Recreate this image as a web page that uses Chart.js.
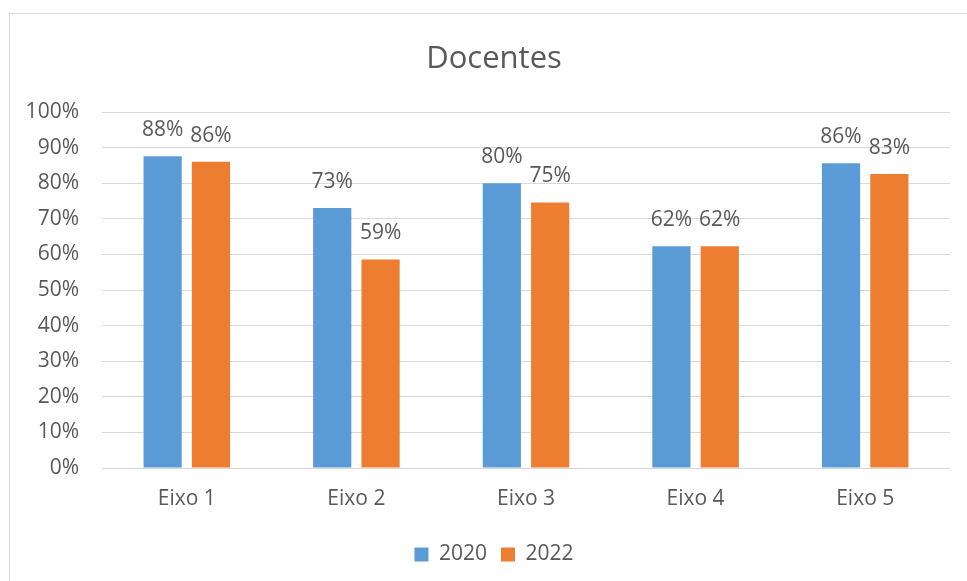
<!DOCTYPE html>
<html>
<head>
<meta charset="utf-8">
<script src="https://cdn.jsdelivr.net/npm/chart.js@4/dist/chart.umd.min.js"></script>
<style>
  html, body { margin: 0; padding: 0; background: #fff; overflow: hidden; }
  #wrap { position: relative; width: 967px; height: 581px; overflow: hidden; }
  #frame { position: absolute; left: 9px; top: 13px; width: 1000px; height: 700px; border: 1px solid #d9d9d9; box-sizing: border-box; }
  canvas { position: absolute; left: 0; top: 0; }
</style>
</head>
<body>
<div id="wrap">
  <div id="frame"></div>
  <canvas id="chartDocentes" width="988" height="581"></canvas>
</div>
<script>
// dados
var categorias = ['Eixo 1', 'Eixo 2', 'Eixo 3', 'Eixo 4', 'Eixo 5'];
var anos = ['2020', '2022'];
var valores2020 = [87.6, 73.0, 80.0, 62.3, 85.6];
var valores2022 = [86.0, 58.6, 74.6, 62.3, 82.6];
var ticksY = [0, 10, 20, 30, 40, 50, 60, 70, 80, 90, 100];

var corTexto = '#595959';
var fonte = "'Open Sans', sans-serif";

// rótulos de dados acima das barras
var rotulosPlugin = {
    id: 'rotulos',
    afterDatasetsDraw: function (chart) {
        var ctx = chart.ctx;
        ctx.save();
        ctx.font = '21px ' + fonte;
        ctx.fillStyle = corTexto;
        ctx.textAlign = 'center';
        ctx.textBaseline = 'alphabetic';
        chart.data.datasets.forEach(function (ds, i) {
            chart.getDatasetMeta(i).data.forEach(function (bar, j) {
                ctx.fillText(Math.round(ds.data[j]) + '%', bar.x, bar.y - 20);
            });
        });
        ctx.restore();
    }
};

var ctx = document.getElementById('chartDocentes');
var myChart = new Chart(ctx, {
    type: 'bar',
    data: {
        labels: categorias,
        datasets: [{
            label: anos[0],
            data: valores2020,
            backgroundColor: '#5B9BD5'
        }, {
            label: anos[1],
            data: valores2022,
            backgroundColor: '#ED7D31'
        }]
    },
    options: {
        responsive: false,
        animation: false,
        layout: {
            padding: { left: 0, right: 0, top: 0, bottom: 6 }
        },
        datasets: {
            bar: {
                categoryPercentage: 0.57,
                barPercentage: 0.79
            }
        },
        scales: {
            x: {
                grid: { display: false, drawTicks: false },
                border: { display: false },
                ticks: { color: corTexto, font: { family: fonte, size: 21 }, padding: 18 },
                afterFit: function (scale) { scale.height = 62; }
            },
            y: {
                min: 0,
                max: 100,
                afterBuildTicks: function (scale) {
                    scale.ticks = ticksY.map(function (v) { return { value: v }; });
                },
                grid: { color: '#d9d9d9', lineWidth: 1, drawTicks: false },
                border: { display: false },
                ticks: {
                    color: corTexto,
                    font: { family: fonte, size: 21 },
                    padding: 23,
                    callback: function (v) { return v + '%'; }
                },
                afterFit: function (scale) { scale.width = 102; }
            },
            // eixo vazio só para reservar a margem direita
            margemDireita: {
                position: 'right',
                grid: { display: false, drawTicks: false },
                border: { display: false },
                ticks: { display: false },
                afterFit: function (scale) { scale.width = 38; }
            }
        },
        plugins: {
            title: {
                display: true,
                text: 'Docentes',
                color: corTexto,
                font: { family: fonte, size: 31, weight: 'normal' },
                padding: { top: 41, bottom: 33.8 }
            },
            legend: {
                display: true,
                position: 'bottom',
                labels: {
                    color: corTexto,
                    font: { family: fonte, size: 21 },
                    boxWidth: 14,
                    boxHeight: 14,
                    padding: 14
                }
            },
            tooltip: { enabled: false }
        }
    },
    plugins: [rotulosPlugin]
});
</script>
</body>
</html>
